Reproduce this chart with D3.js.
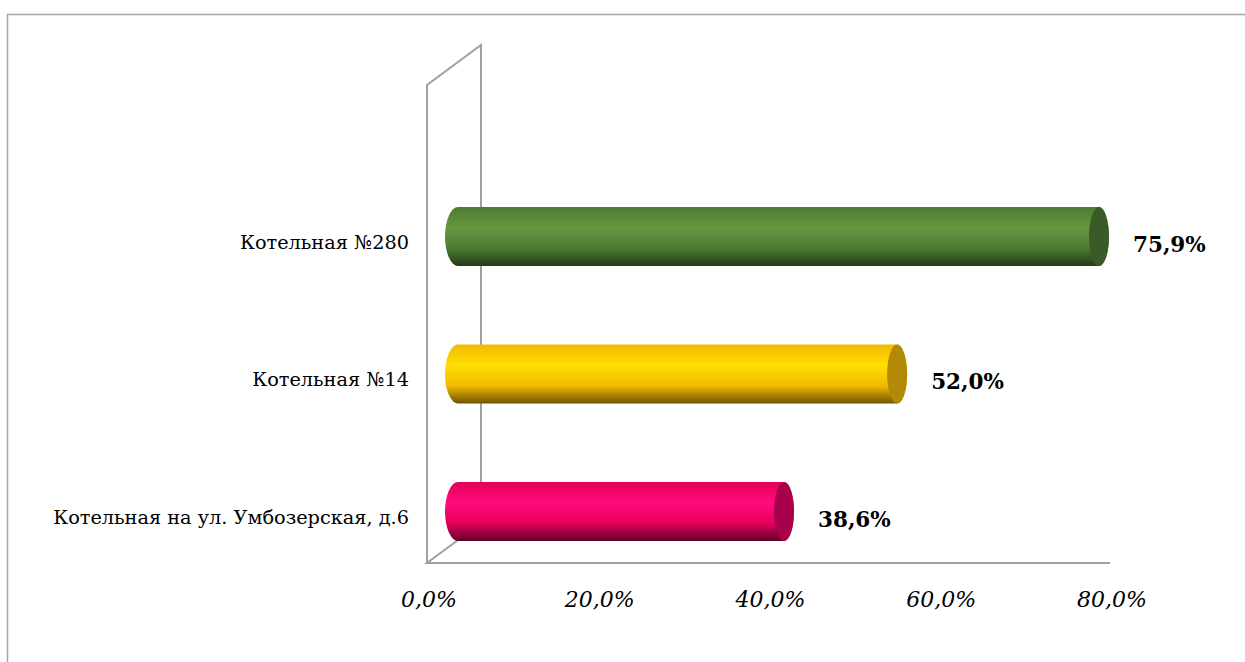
<!DOCTYPE html>
<html><head><meta charset="utf-8">
<script src="https://cdn.jsdelivr.net/npm/d3@7"></script>
<style>html,body{margin:0;padding:0;background:#fff;}svg{display:block;}</style>
</head><body>
<svg id="c" width="1245" height="662"></svg>
<script>
const categories = ["Котельная №280", "Котельная №14", "Котельная на ул. Умбозерская, д.6"];
const values = [75.9, 52.0, 38.6];
const tickValues = [0, 20, 40, 60, 80];
const palette = [
  {top:"#4d7b33", mid:"#66983f", bot:"#253a17", cap:"#3a5b27"},
  {top:"#f2b900", mid:"#ffde05", bot:"#6e5400", cap:"#b38a06"},
  {top:"#e4005a", mid:"#ff0c7c", bot:"#5e002a", cap:"#a8004a"}
];

const svg = d3.select("#c");
const fmt = v => d3.format(".1f")(v).replace(".", ",") + "%";
const serif = "'DejaVu Serif', 'Liberation Serif', serif";

// frame
svg.append("rect").attr("x",7.5).attr("y",14.5).attr("width",1260).attr("height",700)
  .attr("fill","none").attr("stroke","#a6a6a6").attr("stroke-width",1.5);

// front axis scale (floor front edge) and bar-plane scale (depth offset)
const xFront = d3.scaleLinear().domain([0,80]).range([427,1110]);
const xBar = d3.scaleLinear().domain([0,80]).range([458,1133.6]);
const yBar = d3.scaleBand().domain(categories).range([167.75,580.25]).padding(0);
const dx = 54, dy = -40;

// walls
const wall = svg.append("g").attr("fill","none").attr("stroke","#a0a0a0").attr("stroke-width",2);
wall.append("path").attr("d",`M${xFront(0)},563 L${xFront(0)},85 L${xFront(0)+dx},${85+dy} L${xFront(0)+dx},${563+dy}`);
wall.append("path").attr("d",`M${xFront(0)+dx},${563+dy} L${xFront(0)},563 L${xFront(80)},563`);

// gradients
const defs = svg.append("defs");
palette.forEach((p,i)=>{
  const g = defs.append("linearGradient").attr("id","g"+i).attr("x1",0).attr("y1",0).attr("x2",0).attr("y2",1);
  g.append("stop").attr("offset","0%").attr("stop-color",p.top);
  g.append("stop").attr("offset","35%").attr("stop-color",p.mid);
  g.append("stop").attr("offset","70%").attr("stop-color",p.top);
  g.append("stop").attr("offset","100%").attr("stop-color",p.bot);
});

// bars (cylinders)
const bh = 59, rx = 10, rxL = 13;
const bars = svg.append("g");
categories.forEach((c,i)=>{
  const cy = yBar(c) + yBar.bandwidth()/2;
  const top = cy - bh/2, bot = cy + bh/2, ry = bh/2;
  const x0 = xBar(0), x1 = xBar(values[i]);
  bars.append("path")
    .attr("d",`M${x0},${top} L${x1},${top} A${rx},${ry} 0 0 1 ${x1},${bot} L${x0},${bot} A${rxL},${ry} 0 0 1 ${x0},${top} Z`)
    .attr("fill",`url(#g${i})`);
  bars.append("ellipse").attr("cx",x1).attr("cy",cy).attr("rx",rx).attr("ry",ry)
    .attr("fill",palette[i].cap);
  // value label
  svg.append("text").attr("x",x1+rx+24).attr("y",cy+9).attr("dominant-baseline","middle")
    .attr("font-family",serif).attr("font-weight","bold").attr("font-size",21.5).attr("fill","#000")
    .text(fmt(values[i]));
  // category label
  svg.append("text").attr("x",409).attr("y",cy+7).attr("dominant-baseline","middle")
    .attr("text-anchor","end").attr("font-family",serif).attr("font-size",19.3).attr("fill","#000")
    .text(c);
});

// tick labels
svg.append("g").selectAll("text").data(tickValues).join("text")
  .attr("x",d=>xFront(d)+2).attr("y",601).attr("dominant-baseline","middle").attr("text-anchor","middle")
  .attr("font-family",serif).attr("font-style","italic").attr("font-size",22).attr("fill","#000")
  .text(fmt);
</script>
</body></html>
